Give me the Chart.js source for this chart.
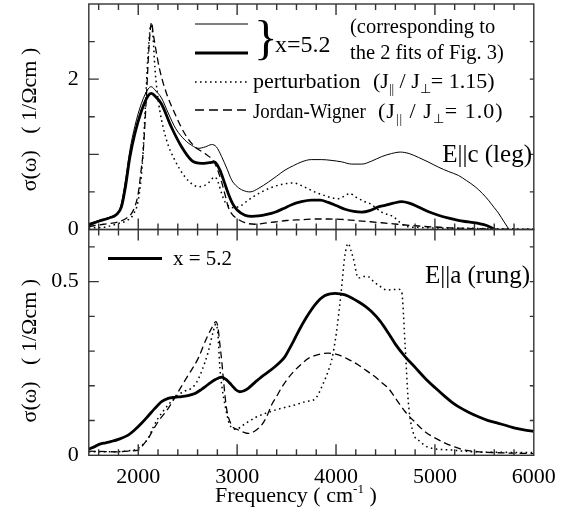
<!DOCTYPE html>
<html><head><meta charset="utf-8">
<script src="https://cdn.jsdelivr.net/npm/chart.js@4/dist/chart.umd.min.js"></script>
<style>
html,body{margin:0;padding:0;background:#fff;}
#wrap{position:relative;width:574px;height:525px;overflow:hidden;font-family:"Liberation Serif","Times New Roman",serif;color:#000;}
canvas{position:absolute;left:0;top:0;}
svg{position:absolute;left:0;top:0;}
.t{position:absolute;white-space:pre;line-height:1;}
.sb{font-size:13px;position:relative;top:5px;}
.sp{font-size:13px;position:relative;top:-9px;}
</style></head><body>
<div id="wrap">
<canvas id="c1" width="574" height="525"></canvas>
<canvas id="c2" width="574" height="525"></canvas>
<svg width="574" height="525">
  <line x1="195" y1="24" x2="248" y2="24" stroke="#000" stroke-width="1"/>
  <line x1="195" y1="53" x2="248" y2="53" stroke="#000" stroke-width="2.8"/>
  <line x1="195" y1="82" x2="250" y2="82" stroke="#000" stroke-width="1.5" stroke-dasharray="1.6 3.4"/>
  <line x1="195" y1="110" x2="250" y2="110" stroke="#000" stroke-width="1.3" stroke-dasharray="9 5"/>
  <line x1="108" y1="258.5" x2="162" y2="258.5" stroke="#000" stroke-width="2.8"/>
</svg>
<div class="t" style="left:254px;top:12.8px;font-size:49px;">}</div>
<div class="t" style="left:275px;top:31.6px;font-size:24px;">x=5.2</div>
<div class="t" style="left:350px;top:15.8px;font-size:20.5px;">(corresponding to</div>
<div class="t" style="left:350px;top:42.3px;font-size:20.5px;">the 2 fits of Fig. 3)</div>
<div class="t" style="left:253px;top:70.1px;font-size:22px;">perturbation</div>
<div class="t" style="left:373px;top:70.1px;font-size:22px;">(J<span class="sb">||</span> / J<span class="sb">⊥</span>= 1.15)</div>
<div class="t" style="left:253px;top:100.1px;font-size:22px;transform:scaleX(0.86);transform-origin:0 0;">Jordan-Wigner</div>
<div class="t" style="left:378px;top:100.1px;font-size:22px;letter-spacing:1px;">(J<span class="sb">||</span> / J<span class="sb">⊥</span>= 1.0)</div>
<div class="t" style="right:42px;top:141.4px;font-size:25px;">E||c (leg)</div>
<div class="t" style="right:44px;top:262.4px;font-size:25px;">E||a (rung)</div>
<div class="t" style="left:173px;top:248.4px;font-size:21px;">x = 5.2</div>
<div class="t" style="left:215px;top:484px;font-size:22px;">Frequency ( cm<span class="sp">-1</span> )</div>
</div>
<script>
// ---------- axis ranges and ticks ----------
const xMin = 1500, xMax = 6000;
const xLabelTicks = [2000, 3000, 4000, 5000, 6000];
const xFrameTicks = [1600,1800,2000,2200,2400,2600,2800,3000,3200,3400,3600,3800,4000,4200,4400,4600,4800,5000,5200,5400,5600,5800];
const topYMax = 3;
const topYLabelTicks = [0, 2];
const topYFrameTicks = [0.5, 1, 1.5, 2, 2.5];
const topYMajor = [1, 2];
const botYMax = 0.65;
const botYLabelTicks = [0, 0.5];
const botYFrameTicks = [0.1, 0.2, 0.3, 0.4, 0.5, 0.6];
const botYMajor = [0.5];

// ---------- upper panel: E||c (leg) ----------
const topThinF = [1500,1600,1700,1800,1830,1870,1915,1965,2033,2100,2130,2180,2235,2303,2380,2472,2540,2606,2680,2742,2790,2843,2900,2944,3000,3060,3130,3220,3315,3400,3484,3570,3653,3750,3855,3950,4057,4160,4260,4360,4462,4560,4650,4740,4832,4930,5035,5140,5237,5320,5406,5480,5541,5600,5642,5700,5750];
const topThinV = [0.08,0.12,0.16,0.24,0.35,0.65,1.05,1.37,1.68,1.87,1.90,1.84,1.75,1.55,1.34,1.19,1.12,1.08,1.10,1.13,1.10,0.97,0.80,0.66,0.57,0.52,0.50,0.55,0.63,0.71,0.79,0.85,0.90,0.93,0.93,0.92,0.90,0.87,0.87,0.91,0.97,1.01,1.03,1.01,0.96,0.90,0.83,0.77,0.72,0.65,0.57,0.48,0.39,0.29,0.22,0.10,0.0];

const topThickF = [1500,1600,1700,1780,1830,1871,1915,1965,2033,2100,2130,2180,2235,2336,2438,2539,2640,2720,2770,2826,2870,2910,2960,3000,3079,3150,3214,3300,3382,3470,3551,3650,3754,3840,3922,4000,4091,4180,4260,4340,4428,4496,4580,4664,4740,4832,4930,5035,5140,5237,5340,5440,5530,5608];
const topThickV = [0.06,0.11,0.15,0.20,0.30,0.57,0.96,1.27,1.58,1.78,1.81,1.76,1.67,1.36,1.10,0.92,0.88,0.89,0.90,0.79,0.63,0.48,0.33,0.26,0.19,0.175,0.18,0.20,0.23,0.28,0.33,0.37,0.39,0.39,0.36,0.32,0.27,0.24,0.23,0.25,0.30,0.32,0.35,0.37,0.35,0.30,0.24,0.19,0.15,0.12,0.10,0.08,0.05,0.0];

const topPertF = [1500,1650,1800,1900,1950,2000,2040,2067,2101,2130,2150,2168,2190,2218,2286,2371,2472,2550,2606,2660,2708,2775,2810,2843,2880,2930,2970,3040,3112,3180,3247,3330,3416,3490,3568,3640,3720,3800,3889,3960,4024,4080,4142,4200,4293,4344,4462,4580,4650,4715,4800,5000,5400,5700,6000];
const topPertV = [0.02,0.03,0.08,0.13,0.20,0.39,0.85,1.50,2.38,2.72,2.55,2.16,1.85,1.58,1.19,0.92,0.70,0.60,0.57,0.58,0.62,0.70,0.62,0.48,0.36,0.30,0.29,0.32,0.39,0.45,0.50,0.55,0.59,0.61,0.62,0.59,0.54,0.49,0.45,0.42,0.41,0.44,0.48,0.43,0.37,0.345,0.23,0.17,0.09,0.04,0.03,0.02,0.015,0.01,0.005];

const topJWF = [1500,1650,1797,1880,1931,1970,2000,2030,2051,2084,2111,2135,2150,2168,2218,2286,2371,2472,2573,2674,2775,2843,2880,2910,2950,2994,3079,3180,3280,3382,3500,3653,3800,3922,4050,4192,4330,4462,4580,4698,4800,4900,5050,5170,5400,5600,6000];
const topJWV = [0.04,0.07,0.10,0.15,0.21,0.32,0.48,0.80,1.05,1.81,2.47,2.76,2.62,2.47,2.12,1.81,1.54,1.27,1.10,1.01,0.88,0.63,0.45,0.30,0.20,0.15,0.09,0.07,0.085,0.10,0.12,0.13,0.14,0.14,0.135,0.12,0.105,0.09,0.075,0.06,0.05,0.04,0.03,0.02,0.012,0.005,0.002];

// ---------- lower panel: E||a (rung) ----------
const botFitF = [1500,1560,1611,1670,1729,1800,1898,1960,2033,2100,2168,2240,2303,2370,2438,2500,2573,2640,2708,2780,2843,2890,2944,2990,3028,3070,3112,3180,3247,3315,3382,3440,3484,3535,3585,3636,3686,3737,3787,3840,3889,3940,3990,4040,4091,4160,4226,4300,4361,4450,4529,4600,4698,4800,4900,5000,5103,5170,5237,5340,5440,5540,5642,5730,5811,5900,6000];
const botFitV = [0.018,0.025,0.032,0.036,0.040,0.046,0.058,0.072,0.092,0.113,0.135,0.155,0.164,0.167,0.169,0.172,0.178,0.19,0.204,0.218,0.225,0.218,0.202,0.188,0.183,0.186,0.193,0.21,0.226,0.24,0.255,0.27,0.284,0.31,0.337,0.365,0.39,0.413,0.433,0.45,0.46,0.465,0.466,0.465,0.462,0.453,0.442,0.428,0.413,0.385,0.352,0.32,0.284,0.253,0.222,0.195,0.169,0.153,0.14,0.124,0.111,0.100,0.092,0.085,0.078,0.073,0.069];

const botPertF = [1500,1729,1900,2000,2050,2101,2150,2202,2303,2404,2470,2539,2590,2640,2708,2758,2785,2805,2826,2850,2877,2927,2994,3050,3180,3382,3585,3700,3787,3871,3930,3956,4003,4054,4088,4124,4150,4175,4226,4280,4327,4380,4428,4511,4580,4631,4664,4698,4732,4783,4850,4916,5170,5400,6000];
const botPertV = [0.01,0.01,0.013,0.02,0.032,0.049,0.08,0.107,0.145,0.174,0.185,0.193,0.21,0.241,0.298,0.356,0.378,0.35,0.25,0.19,0.145,0.087,0.075,0.085,0.108,0.13,0.145,0.155,0.162,0.207,0.25,0.274,0.351,0.476,0.572,0.61,0.59,0.567,0.51,0.515,0.514,0.50,0.49,0.476,0.477,0.478,0.47,0.32,0.15,0.063,0.04,0.025,0.015,0.01,0.008];

const botJWF = [1500,1797,1900,2000,2050,2101,2150,2202,2303,2404,2506,2606,2691,2750,2785,2805,2826,2845,2860,2893,2944,3012,3070,3112,3180,3247,3300,3348,3400,3450,3510,3568,3640,3720,3820,3922,4024,4120,4226,4310,4395,4460,4529,4600,4698,4800,4900,5000,5103,5200,5305,5450,5575,6000];
const botJWV = [0.012,0.01,0.012,0.015,0.03,0.049,0.073,0.097,0.135,0.183,0.231,0.279,0.337,0.37,0.385,0.37,0.318,0.27,0.222,0.135,0.087,0.073,0.066,0.063,0.07,0.087,0.112,0.145,0.17,0.195,0.22,0.24,0.26,0.279,0.29,0.294,0.289,0.277,0.26,0.243,0.226,0.21,0.193,0.165,0.126,0.095,0.068,0.05,0.035,0.024,0.015,0.01,0.008,0.005];

// ---------- build ----------
const FONT = '"Liberation Serif", "Times New Roman", serif';
const zip = (f, v) => f.map((x, i) => ({x: x, y: v[i]}));
const STYLE = {
  thin:   {borderWidth: 1.0, borderDash: []},
  thick:  {borderWidth: 2.8, borderDash: []},
  dotted: {borderWidth: 1.5, borderDash: [1.6, 3.4]},
  dashed: {borderWidth: 1.3, borderDash: [7, 4]}
};
function ds(f, v, kind) {
  return Object.assign({
    data: zip(f, v), borderColor: '#000', pointRadius: 0, fill: false,
    cubicInterpolationMode: 'monotone', borderCapStyle: 'butt'
  }, STYLE[kind]);
}

const frameTicks = {
  id: 'frameTicks',
  afterDraw(chart, args, o) {
    const {ctx, chartArea: a, scales: {x, y}} = chart;
    ctx.save();
    ctx.strokeStyle = '#333';
    ctx.lineWidth = 1.4;
    ctx.strokeRect(a.left, a.top, a.right - a.left, a.bottom - a.top);
    ctx.beginPath();
    o.xTicks.forEach(v => {
      const px = x.getPixelForValue(v);
      const L = (v % 1000 === 0) ? 11 : 6;
      ctx.moveTo(px, a.bottom); ctx.lineTo(px, a.bottom - L);
      ctx.moveTo(px, a.top); ctx.lineTo(px, a.top + L);
    });
    o.yTicks.forEach(v => {
      const py = y.getPixelForValue(v);
      const L = o.yMajor.some(m => Math.abs(m - v) < 1e-9) ? 10 : 6;
      ctx.moveTo(a.left, py); ctx.lineTo(a.left + L, py);
      ctx.moveTo(a.right, py); ctx.lineTo(a.right - 4, py);
    });
    ctx.stroke();
    ctx.restore();
  }
};

function yAxis(max, labelTicks, title, titlePad) {
  return {
    type: 'linear', min: 0, max: max,
    afterBuildTicks: s => { s.ticks = labelTicks.map(v => ({value: v})); },
    afterFit: s => { s.width = 88.8; s.paddingTop = 0; s.paddingBottom = 0; },
    grid: {display: false, drawTicks: false, tickLength: 0},
    border: {display: false},
    ticks: {padding: 10, color: '#000', font: {family: FONT, size: 22}, callback: v => String(v)},
    title: {display: true, text: title, color: '#000', font: {family: FONT, size: 22}, padding: {top: titlePad, bottom: 0}}
  };
}

Chart.defaults.font.family = FONT;

new Chart(document.getElementById('c1'), {
  type: 'line',
  data: {datasets: [
    ds(topThinF, topThinV, 'thin'),
    ds(topThickF, topThickV, 'thick'),
    ds(topPertF, topPertV, 'dotted'),
    ds(topJWF, topJWV, 'dashed')
  ]},
  options: {
    responsive: false, animation: false, devicePixelRatio: 1, events: [],
    layout: {padding: {left: 0, right: 40.2, top: 4, bottom: 295.5}},
    plugins: {legend: {display: false}, tooltip: {enabled: false},
      frameTicks: {xTicks: xFrameTicks, yTicks: topYFrameTicks, yMajor: topYMajor}},
    scales: {
      x: {type: 'linear', min: xMin, max: xMax, display: false},
      y: yAxis(topYMax, topYLabelTicks, 'σ(ω)   ( 1/Ωcm ) ', 17)
    }
  },
  plugins: [frameTicks]
});

new Chart(document.getElementById('c2'), {
  type: 'line',
  data: {datasets: [
    ds(botFitF, botFitV, 'thick'),
    ds(botPertF, botPertV, 'dotted'),
    ds(botJWF, botJWV, 'dashed')
  ]},
  options: {
    responsive: false, animation: false, devicePixelRatio: 1, events: [],
    layout: {padding: {left: 0, right: 40.2, top: 229.5, bottom: 0}},
    plugins: {legend: {display: false}, tooltip: {enabled: false},
      frameTicks: {xTicks: xFrameTicks, yTicks: botYFrameTicks, yMajor: botYMajor}},
    scales: {
      x: {
        type: 'linear', min: xMin, max: xMax, position: 'bottom',
        afterBuildTicks: s => { s.ticks = xLabelTicks.map(v => ({value: v})); },
        afterFit: s => { s.height = 69.7; s.paddingLeft = 0; s.paddingRight = 0; },
        grid: {display: false, drawTicks: false, tickLength: 0},
        border: {display: false},
        ticks: {padding: 9, maxRotation: 0, autoSkip: false, color: '#000', font: {family: FONT, size: 22}, callback: v => String(v)}
      },
      y: yAxis(botYMax, botYLabelTicks, 'σ(ω)   ( 1/Ωcm )   ', 17)
    }
  },
  plugins: [frameTicks]
});
</script>
</body></html>
